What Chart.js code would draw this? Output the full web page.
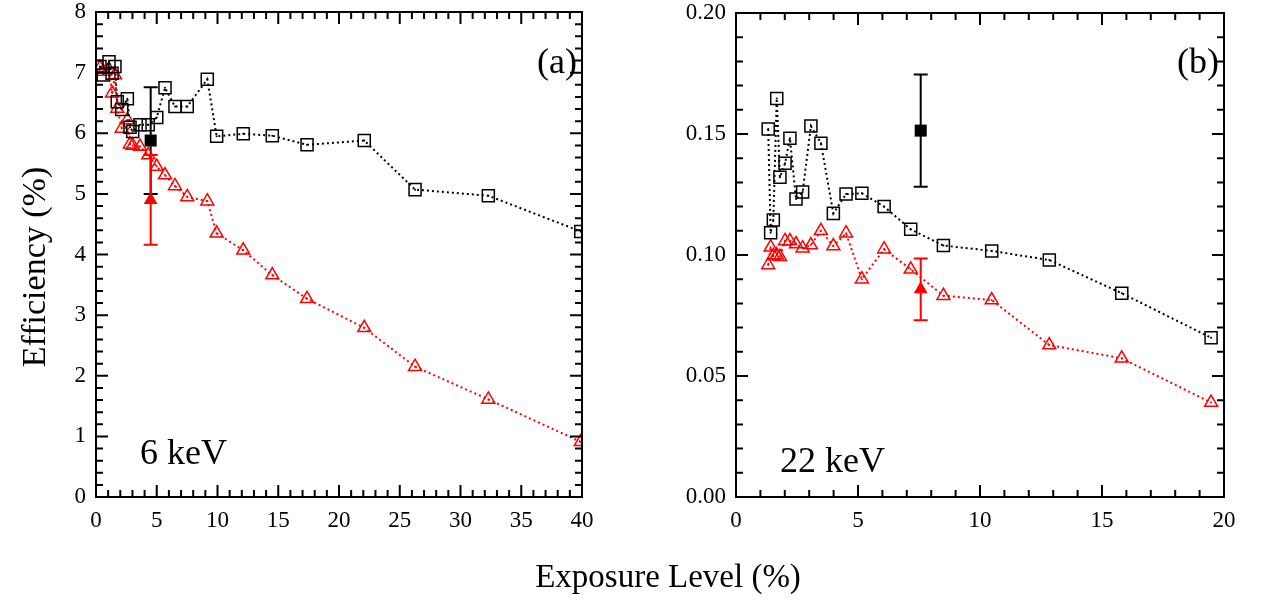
<!DOCTYPE html>
<html>
<head>
<meta charset="utf-8">
<script src="https://cdn.jsdelivr.net/npm/chart.js@4.4.0/dist/chart.umd.min.js"></script>
<style>
  body { margin: 0; background: #fff; }
  .wrap { position: absolute; left: 0; top: 0; width: 1275px; height: 601px; }
</style>
</head>
<body>
<div class="wrap"><canvas id="chartA" width="1275" height="601"></canvas></div>
<div class="wrap"><canvas id="chartB" width="1275" height="601"></canvas></div>
<script>
// (a) 6 keV
const expA = [0.33, 0.60, 1.07, 1.32, 1.56, 1.75, 2.12, 2.58, 2.80, 3.02, 3.62, 4.30, 5.00, 5.68, 6.50, 7.51, 9.16, 9.93, 12.12, 14.51, 17.37, 22.08, 26.26, 32.29, 39.9];
const squaresA = [7.10, 6.96, 7.18, 6.99, 7.10, 6.52, 6.39, 6.57, 6.10, 6.03, 6.14, 6.14, 6.26, 6.75, 6.44, 6.44, 6.89, 5.95, 5.99, 5.96, 5.81, 5.88, 5.07, 4.97, 4.38];
const trianglesA = [7.08, 7.02, 7.05, 6.66, 6.96, 6.41, 6.08, 6.22, 5.82, 5.80, 5.78, 5.64, 5.45, 5.31, 5.13, 4.95, 4.88, 4.35, 4.07, 3.66, 3.27, 2.79, 2.15, 1.61, 0.91];
const measExpA = [4.50];
const measSqA = [5.88], measSqErrA = [0.88];
const measTriA = [4.90], measTriErrA = [0.74];
const xTicksA = [0, 5, 10, 15, 20, 25, 30, 35, 40];
const yTicksA = [0, 1, 2, 3, 4, 5, 6, 7, 8];

// (b) 22 keV
const expB = [1.32, 1.42, 1.53, 1.67, 1.80, 2.01, 2.21, 2.46, 2.73, 3.07, 3.48, 3.99, 4.51, 5.16, 6.07, 7.16, 8.50, 10.48, 12.84, 15.81, 19.47];
const squaresB = [0.1521, 0.1092, 0.1145, 0.1647, 0.1321, 0.1379, 0.1482, 0.1231, 0.1260, 0.1533, 0.1462, 0.1172, 0.1252, 0.1255, 0.1200, 0.1106, 0.1039, 0.1017, 0.0979, 0.0842, 0.0658];
const trianglesB = [0.0959, 0.1032, 0.0996, 0.1000, 0.0993, 0.1058, 0.1058, 0.1045, 0.1028, 0.1041, 0.1100, 0.1037, 0.1090, 0.0900, 0.1024, 0.0941, 0.0832, 0.0814, 0.0628, 0.0573, 0.0390];
const measExpB = [7.57];
const measSqB = [0.1514], measSqErrB = [0.0232];
const measTriB = [0.0858], measTriErrB = [0.0128];
const xTicksB = [0, 5, 10, 15, 20];
const yTicksB = [0, 0.05, 0.10, 0.15, 0.20];

const FONT = '"Liberation Serif", "Times New Roman", serif';
const RED = '#ff0000';

function pts(xs, ys) {
  return xs.map((x, i) => ({ x: x, y: ys[i] }));
}

// frame, inward ticks on all sides, error bars and text labels
const boxPlugin = {
  id: 'box',
  beforeDatasetsDraw(chart) {
    const ctx = chart.ctx;
    const xs = chart.scales.x, ys = chart.scales.y;
    chart.data.datasets.forEach((ds) => {
      if (!ds.err) return;
      ctx.save();
      ctx.strokeStyle = ds.pointBackgroundColor;
      ctx.lineWidth = 2;
      ds.data.forEach((p, j) => {
        const px = xs.getPixelForValue(p.x);
        const y1 = ys.getPixelForValue(p.y + ds.err[j]);
        const y2 = ys.getPixelForValue(p.y - ds.err[j]);
        ctx.beginPath();
        ctx.moveTo(px, y1); ctx.lineTo(px, y2);
        ctx.moveTo(px - 7, y1); ctx.lineTo(px + 7, y1);
        ctx.moveTo(px - 7, y2); ctx.lineTo(px + 7, y2);
        ctx.stroke();
      });
      ctx.restore();
    });
  },
  afterDraw(chart, args, opts) {
    const ctx = chart.ctx;
    const a = chart.chartArea;
    const xs = chart.scales.x, ys = chart.scales.y;
    ctx.save();
    ctx.strokeStyle = '#000';
    ctx.lineWidth = 2;
    ctx.strokeRect(a.left, a.top, a.right - a.left, a.bottom - a.top);
    ctx.beginPath();
    const nx = Math.round((xs.max - xs.min) / opts.xMinor);
    for (let i = 0; i <= nx; i++) {
      const px = xs.getPixelForValue(xs.min + i * opts.xMinor);
      const len = i % opts.xEvery === 0 ? 12 : 7;
      ctx.moveTo(px, a.bottom); ctx.lineTo(px, a.bottom - len);
      ctx.moveTo(px, a.top); ctx.lineTo(px, a.top + len);
    }
    const ny = Math.round((ys.max - ys.min) / opts.yMinor);
    for (let i = 0; i <= ny; i++) {
      const py = ys.getPixelForValue(ys.min + i * opts.yMinor);
      const len = i % opts.yEvery === 0 ? 12 : 7;
      ctx.moveTo(a.left, py); ctx.lineTo(a.left + len, py);
      ctx.moveTo(a.right, py); ctx.lineTo(a.right - len, py);
    }
    ctx.stroke();

    ctx.fillStyle = '#000';
    (opts.texts || []).forEach((t) => {
      ctx.save();
      ctx.font = t.size + 'px ' + FONT;
      ctx.textAlign = t.align || 'left';
      ctx.textBaseline = t.baseline || 'alphabetic';
      ctx.translate(t.x, t.y);
      if (t.rotate) ctx.rotate(t.rotate);
      ctx.fillText(t.text, 0, 0);
      ctx.restore();
    });
    ctx.restore();
  }
};

function makeChart(id, cfg) {
  const datasets = [
    {
      data: pts(cfg.exp, cfg.squares),
      showLine: true, borderColor: '#000', borderWidth: 2, borderDash: [2, 3],
      pointStyle: 'rect', pointRadius: 8.5, pointBorderWidth: 1.5,
      pointBorderColor: '#000', pointBackgroundColor: 'rgba(0,0,0,0)'
    },
    {
      data: pts(cfg.exp, cfg.triangles),
      showLine: true, borderColor: RED, borderWidth: 2, borderDash: [2, 3],
      pointStyle: 'triangle', pointRadius: 7.5, pointBorderWidth: 1.5,
      pointBorderColor: RED, pointBackgroundColor: 'rgba(0,0,0,0)'
    },
    {
      data: pts(cfg.exp, cfg.squares),
      pointStyle: 'circle', pointRadius: 1, pointBorderWidth: 0,
      pointBackgroundColor: '#000'
    },
    {
      data: pts(cfg.exp, cfg.triangles),
      pointStyle: 'circle', pointRadius: 1, pointBorderWidth: 0,
      pointBackgroundColor: RED
    },
    {
      data: pts(cfg.measExp, cfg.measSq), err: cfg.measSqErr,
      pointStyle: 'rect', pointRadius: 8.5, pointBorderWidth: 0,
      pointBackgroundColor: '#000'
    },
    {
      data: pts(cfg.measExp, cfg.measTri), err: cfg.measTriErr,
      pointStyle: 'triangle', pointRadius: 8, pointBorderWidth: 0,
      pointBackgroundColor: RED
    }
  ];

  return new Chart(document.getElementById(id), {
    type: 'scatter',
    data: { datasets: datasets },
    options: {
      responsive: false,
      animation: false,
      events: [],
      layout: { padding: cfg.padding },
      plugins: {
        legend: { display: false },
        tooltip: { enabled: false },
        box: cfg.box
      },
      scales: {
        x: {
          type: 'linear', min: cfg.xTicks[0], max: cfg.xTicks[cfg.xTicks.length - 1],
          grid: { display: false }, border: { display: false },
          afterBuildTicks: (s) => { s.ticks = cfg.xTicks.map((v) => ({ value: v })); },
          afterFit: (s) => { s.height = cfg.xHeight; s.paddingLeft = 0; s.paddingRight = 0; },
          ticks: { color: '#000', font: { family: FONT, size: 23 }, padding: 2, maxRotation: 0, autoSkip: false }
        },
        y: {
          type: 'linear', min: cfg.yTicks[0], max: cfg.yTicks[cfg.yTicks.length - 1],
          grid: { display: false }, border: { display: false },
          afterBuildTicks: (s) => { s.ticks = cfg.yTicks.map((v) => ({ value: v })); },
          afterFit: (s) => { s.width = cfg.yWidth; s.paddingTop = 0; s.paddingBottom = 0; },
          ticks: {
            color: '#000', font: { family: FONT, size: 23 }, padding: 2, autoSkip: false,
            callback: (v) => v.toFixed(cfg.yDigits)
          }
        }
      }
    },
    plugins: [boxPlugin]
  });
}

makeChart('chartA', {
  exp: expA, squares: squaresA, triangles: trianglesA,
  measExp: measExpA, measSq: measSqA, measSqErr: measSqErrA, measTri: measTriA, measTriErr: measTriErrA,
  xTicks: xTicksA, yTicks: yTicksA, yDigits: 0,
  padding: { left: 0, top: 12, right: 693, bottom: 0 },
  yWidth: 96, xHeight: 104,
  box: {
    xMinor: 1, xEvery: 5, yMinor: 0.2, yEvery: 5,
    texts: [
      { text: '(a)', x: 577, y: 73, size: 36, align: 'right' },
      { text: '6 keV', x: 140, y: 464, size: 36 },
      { text: 'Efficiency (%)', x: 36, y: 267, size: 34, align: 'center', baseline: 'middle', rotate: -Math.PI / 2 },
      { text: 'Exposure Level (%)', x: 668, y: 578, size: 33, align: 'center', baseline: 'middle' }
    ]
  }
});

makeChart('chartB', {
  exp: expB, squares: squaresB, triangles: trianglesB,
  measExp: measExpB, measSq: measSqB, measSqErr: measSqErrB, measTri: measTriB, measTriErr: measTriErrB,
  xTicks: xTicksB, yTicks: yTicksB, yDigits: 2,
  padding: { left: 669, top: 13, right: 51, bottom: 0 },
  yWidth: 67, xHeight: 104,
  box: {
    xMinor: 1, xEvery: 5, yMinor: 0.01, yEvery: 5,
    texts: [
      { text: '(b)', x: 1219, y: 73, size: 36, align: 'right' },
      { text: '22 keV', x: 780, y: 472, size: 36 }
    ]
  }
});
</script>
</body>
</html>
